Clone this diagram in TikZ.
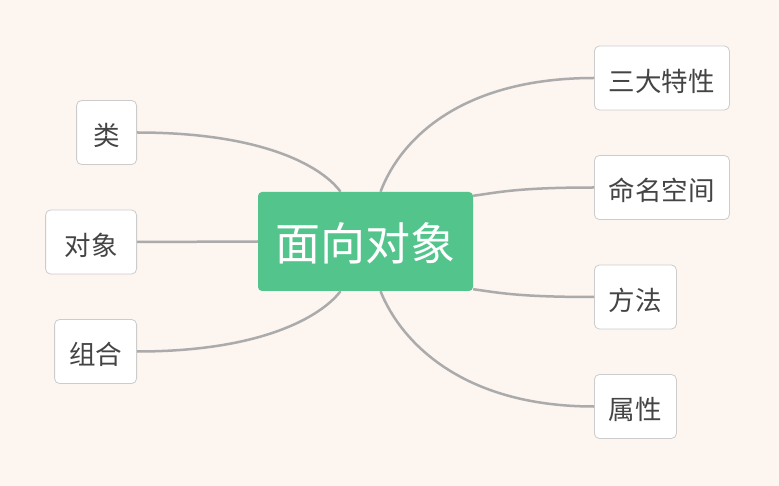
\documentclass[tikz,border=0pt]{standalone}
\usepackage{fontspec}
\setmainfont{Noto Sans CJK SC}
\usetikzlibrary{calc}
\definecolor{mapBg}{HTML}{FCF5F0}
\definecolor{mapGreen}{HTML}{52C48C}
\definecolor{mapLine}{HTML}{ABABAB}
\definecolor{mapBorder}{HTML}{CCCCCC}
\definecolor{mapText}{HTML}{444444}
\newcommand{\lowtext}[1]{\raisebox{-3pt}[\height][\depth]{#1}}
\begin{document}
\begin{tikzpicture}[x=1pt,y=-1pt,
  root/.style={fill=mapGreen,rounded corners=4pt,text=white,font=\fontsize{45}{52}\selectfont,
    minimum width=215pt,minimum height=99pt,inner sep=0pt},
  leaf/.style={draw=mapBorder,fill=white,rounded corners=5pt,text=mapText,
    font=\fontsize{26.5}{30}\selectfont,minimum height=64pt,inner xsep=14.5pt,inner ysep=0pt,line width=0.8pt},
  link/.style={draw=mapLine,line width=2.5pt}]
% canvas
\fill[mapBg] (0,0) rectangle (779,486);
\useasboundingbox (0,0) rectangle (779,486);
% centre
\node[root] (root) at (365.5,241.5) {\raisebox{-1.5pt}[\height][\depth]{面向对象}};
\coordinate (rootNW) at ($(root.north)+(-25,0)$);
\coordinate (rootNE) at ($(root.north)+(15,0)$);
\coordinate (rootSW) at ($(root.south)+(-25,0)$);
\coordinate (rootSE) at ($(root.south)+(15,0)$);
\coordinate (rootE1) at ($(root.north east)+(0,4)$);
\coordinate (rootE2) at ($(root.south east)+(0,-2)$);
% left side
\node[leaf,anchor=east,minimum width=60pt] (lei) at (137,132.5) {\lowtext{类}};
\node[leaf,anchor=east,minimum width=91pt] (duixiang) at (137,242) {\lowtext{对象}};
\node[leaf,anchor=east] (zuhe) at (137,351.5) {\lowtext{组合}};
% right side
\node[leaf,anchor=west] (texing) at (594,78) {\lowtext{三大特性}};
\node[leaf,anchor=west] (kongjian) at (594,187.5) {\lowtext{命名空间}};
\node[leaf,anchor=west] (fangfa) at (594,297) {\lowtext{方法}};
\node[leaf,anchor=west] (shuxing) at (594,406.5) {\lowtext{属性}};
% connectors
\begin{scope}[link]
\draw (lei.east) .. controls (270,132.5) and (325,170) .. (rootNW);
\draw (duixiang.east) -- (root.west);
\draw (zuhe.east) .. controls (270,351.5) and (325,312) .. (rootSW);
\draw (texing.west) .. controls (460,78) and (400,140) .. (rootNE);
\draw (kongjian.west) .. controls (520,187.5) and (500,192) .. (rootE1);
\draw (fangfa.west) .. controls (520,297) and (500,293) .. (rootE2);
\draw (shuxing.west) .. controls (460,406.5) and (400,340) .. (rootSE);
\end{scope}
\end{tikzpicture}
\end{document}
